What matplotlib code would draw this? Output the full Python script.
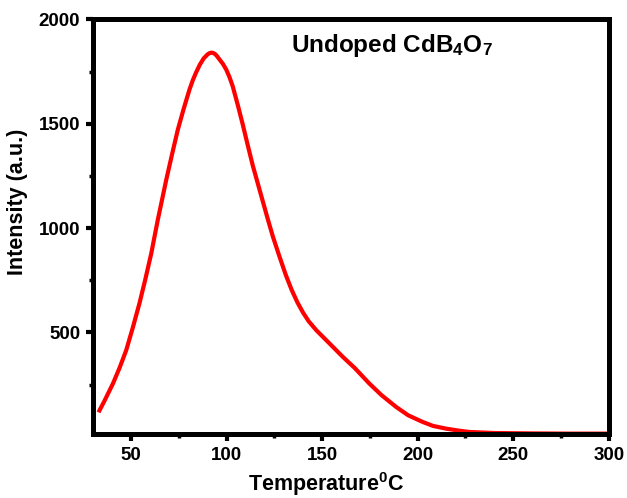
import matplotlib
matplotlib.use("Agg")
import matplotlib.pyplot as plt
from matplotlib.ticker import MultipleLocator

plt.rcParams['font.family'] = ['Liberation Sans', 'DejaVu Sans']
plt.rcParams['mathtext.fontset'] = 'custom'
plt.rcParams['mathtext.rm'] = 'Liberation Sans:bold'
plt.rcParams['mathtext.bf'] = 'Liberation Sans:bold'
plt.rcParams['mathtext.it'] = 'Liberation Sans:bold'

temperature = [33.5, 36, 40.5, 44, 47.5, 51, 54.4, 57.5, 60.6, 64, 68.4, 71.5, 74.5,
               77.5, 80.6, 82.3, 84, 86, 88, 90, 91, 92, 93, 94, 95, 96.3, 98,
               99.8, 101.5, 103.2, 106, 108.5,
               111, 113.7, 116.3, 118.9, 121.5, 124.2, 127.7, 131, 134, 137, 140,
               143, 147, 153, 160.8, 167, 174.7, 181, 188.7, 195, 202.6, 208,
               214.8, 221, 227, 240, 260, 280, 300]
intensity = [126, 170, 254, 330, 415, 525, 639, 755, 879, 1039, 1230, 1355, 1472,
             1570, 1664, 1708, 1745, 1783, 1813, 1832, 1838, 1841, 1839, 1834, 1824, 1808, 1788,
             1760, 1724, 1680, 1585, 1495,
             1400, 1300, 1215, 1130, 1045, 960, 863, 775, 705, 645, 595,
             553, 510, 455, 383, 330, 255, 200, 143, 103, 71, 52,
             39, 30, 23, 18, 16, 15, 15]

x_ticks = [50, 100, 150, 200, 250, 300]
y_ticks = [500, 1000, 1500, 2000]

fig = plt.figure(figsize=(6.27, 4.98), dpi=100)
ax = fig.add_axes([0.148, 0.128, 0.823, 0.833])
ax.plot(temperature, intensity, color='#ff0000', lw=3.0, solid_joinstyle='round')

ax.set_xlim(30, 300)
ax.set_ylim(12, 2000)
ax.set_xticks(x_ticks)
ax.set_yticks(y_ticks)
ax.xaxis.set_minor_locator(MultipleLocator(25))
ax.yaxis.set_minor_locator(MultipleLocator(250))
for s in ax.spines.values():
    s.set_linewidth(3.6)
ax.tick_params(which='major', direction='out', length=5, width=3, labelsize=13.5, pad=4)
ax.tick_params(which='minor', direction='out', length=3, width=2.5)
for lab in ax.get_xticklabels() + ax.get_yticklabels():
    lab.set_fontweight('bold')

ax.set_xlabel(r'Temperature$^\mathbf{0}$C', fontsize=15.5, fontweight='bold')
ax.set_ylabel('Intensity (a.u.)', fontsize=15.5, fontweight='bold')
ax.xaxis.set_label_coords(0.452, -0.087)
ax.yaxis.set_label_coords(-0.125, 0.56)
ax.text(0.579, 0.938, r'Undoped CdB$_\mathbf{4}$O$_\mathbf{7}$', transform=ax.transAxes,
        ha='center', va='center', fontsize=17.5, fontweight='bold')

fig.savefig('out.png', dpi=100)
